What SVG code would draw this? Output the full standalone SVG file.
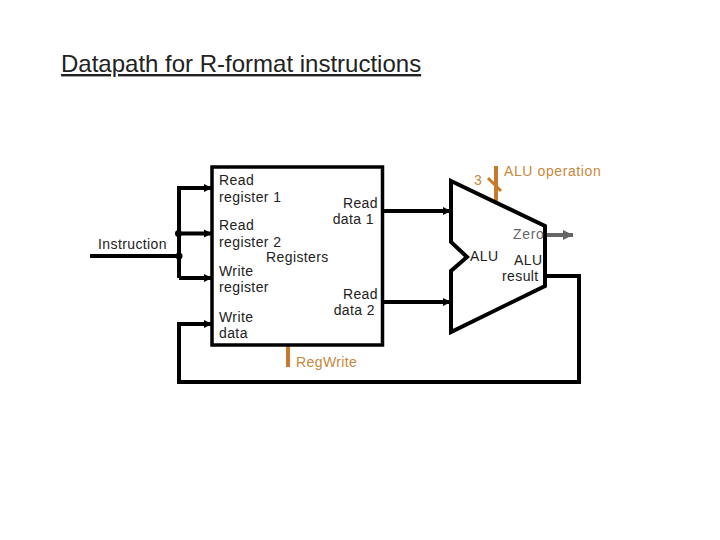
<svg xmlns="http://www.w3.org/2000/svg" width="720" height="540" viewBox="0 0 720 540">
<defs>
<marker id="a" markerUnits="userSpaceOnUse" markerWidth="9" markerHeight="9" refX="8" refY="4.500" orient="auto"><path d="M0 0.500L8 4.500L0 8.500Z" fill="#000"/></marker>
<marker id="g" markerUnits="userSpaceOnUse" markerWidth="11" markerHeight="10" refX="10" refY="5" orient="auto"><path d="M0 0L10 5L0 10Z" fill="#666"/></marker>
</defs>
<style>
text{font-family:"Liberation Sans",Arial,sans-serif;font-size:14px;fill:#222;letter-spacing:0.4px}
.w{fill:none;stroke:#000;stroke-width:4}
.b{fill:none;stroke:#000;stroke-width:4;marker-end:url(#a)}
.o{fill:none;stroke:#c87a2a;stroke-width:4}
.ot{fill:#c8873a}
.m{text-anchor:end}
</style>
<rect width="720" height="540" fill="#fff"/>
<text id="title" x="61" y="72" style="font-size:24px;letter-spacing:0;text-decoration:underline">Datapath for R-format instructions</text>
<g id="connectors">
<path class="w" d="M90 256H179"/>
<path class="b" d="M179 278V188H212"/>
<path class="b" d="M179 233.500H212"/>
<path class="b" d="M179 278H212"/>
<path class="b" d="M545 276H579V382H179V324H212"/>
<path class="b" d="M383 211H451"/>
<path class="b" d="M383 302H451"/>
<path fill="none" stroke="#666" stroke-width="4" marker-end="url(#g)" d="M546 235H573"/>
<circle cx="178.500" cy="233.500" r="3.500" fill="#000"/>
<circle cx="179" cy="256" r="3.500" fill="#000"/>
<path class="o" d="M288 346V367"/>
<path class="o" d="M496 166V201"/>
<path class="o" style="stroke-width:3" d="M488 178L501 191"/>
</g>
<g id="instruction"><text x="98" y="249">Instruction</text></g>
<g id="registers">
<rect x="212" y="167" width="170.500" height="178" fill="none" stroke="#000" stroke-width="3.500"/>
<text x="219" y="185">Read</text><text x="219" y="202">register 1</text>
<text x="219" y="230">Read</text><text x="219" y="247">register 2</text>
<text x="266" y="262">Registers</text>
<text x="219" y="276">Write</text><text x="219" y="292">register</text>
<text x="219" y="322">Write</text><text x="219" y="338">data</text>
<text class="m" x="378" y="208">Read</text><text class="m" x="374" y="224">data 1</text>
<text class="m" x="378" y="299">Read</text><text class="m" x="375" y="315">data 2</text>
</g>
<g id="regwrite"><text class="ot" x="296" y="367">RegWrite</text></g>
<g id="alu">
<path d="M451 181L545 226V286L451 332V271L467 257L451 242Z" fill="none" stroke="#000" stroke-width="4"/>
<text x="470" y="261">ALU</text>
<text x="513" y="239" style="fill:#666;letter-spacing:0.7px">Zero</text>
<text x="514" y="265">ALU</text>
<text x="502" y="281">result</text>
</g>
<g id="aluop">
<text class="ot" x="474" y="185">3</text>
<text class="ot" x="504" y="176" style="letter-spacing:0.6px">ALU operation</text>
</g>
</svg>
